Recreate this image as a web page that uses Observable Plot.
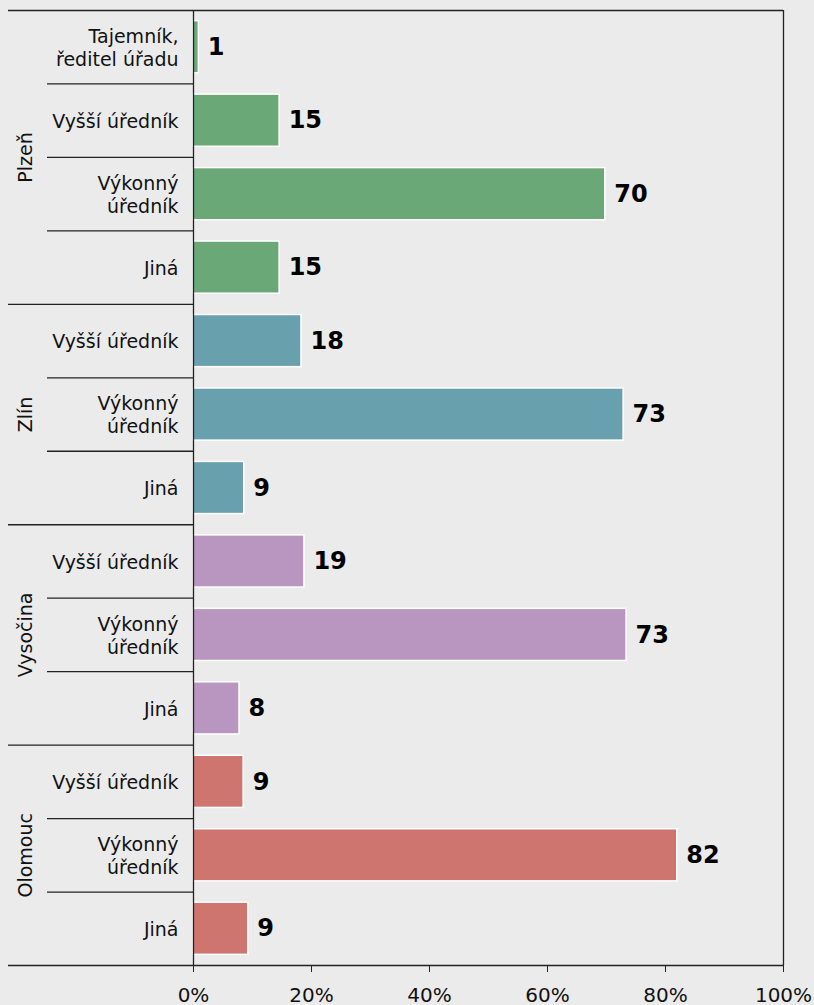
<!DOCTYPE html>
<html><head><meta charset="utf-8">
<script src="https://cdn.jsdelivr.net/npm/d3@7"></script>
<script src="https://cdn.jsdelivr.net/npm/@observablehq/plot@0.6"></script>
<style>html,body{margin:0;padding:0;background:#ebebeb;overflow:hidden}</style>
</head><body><div id="chart"></div>
<script>
const regions = ["Plzeň", "Zlín", "Vysočina", "Olomouc"];
const regionColors = ["#6aa877", "#68a0ae", "#b896c0", "#cf7570"];
const categories = [
  ["Tajemník,\nředitel úřadu", "Vyšší úředník", "Výkonný\núředník", "Jiná"],
  ["Vyšší úředník", "Výkonný\núředník", "Jiná"],
  ["Vyšší úředník", "Výkonný\núředník", "Jiná"],
  ["Vyšší úředník", "Výkonný\núředník", "Jiná"]
];
const shares = [
  [0.9, 14.6, 69.8, 14.6],
  [18.3, 72.9, 8.6],
  [18.8, 73.4, 7.8],
  [8.5, 82.0, 9.3]
];
const valueLabels = [
  [1, 15, 70, 15],
  [18, 73, 9],
  [19, 73, 8],
  [9, 82, 9]
];
const xTicks = [0, 20, 40, 60, 80, 100];

const rows = [];
const groups = [];
let idx = 0;
regions.forEach((r, g) => {
  groups.push({name: r, start: idx, n: categories[g].length});
  categories[g].forEach((c, k) => {
    rows.push({region: r, cat: c, value: shares[g][k], label: String(valueLabels[g][k]), i: idx});
    idx++;
  });
});
const total = idx;
const groupBounds = groups.map(d => d.start).concat([total]);
const innerBounds = [];
groups.forEach(d => { for (let k = 1; k < d.n; k++) innerBounds.push(d.start + k); });

const chart = Plot.plot({
  width: 814,
  height: 1005,
  marginLeft: 193,
  marginRight: 31,
  marginTop: 10,
  marginBottom: 40,
  style: {fontFamily: "DejaVu Sans, Verdana, sans-serif", background: "#ebebeb", overflow: "visible"},
  x: {domain: [0, 100], axis: null},
  y: {domain: [0, total], reverse: true, axis: null},
  color: {domain: regions, range: regionColors},
  marks: [
    Plot.rectX(rows, {x1: 0, x2: "value", y1: d => d.i + 0.145, y2: d => d.i + 0.855, fill: "region", stroke: "white", strokeWidth: 1.5}),
    Plot.axisY(innerBounds, {anchor: "left", tickSize: 146, tickFormat: () => "", label: null, stroke: "#222", strokeWidth: 1.3}),
    Plot.axisY(groupBounds, {anchor: "left", tickSize: 185, tickFormat: () => "", label: null, stroke: "#222", strokeWidth: 1.3}),
    Plot.ruleY([0, total], {stroke: "#222", strokeWidth: 1.3}),
    Plot.ruleX([0, 100], {stroke: "#222", strokeWidth: 1.3}),
    Plot.axisX(xTicks, {anchor: "bottom", tickSize: 7, tickPadding: 15, fontSize: 20, label: null, tickFormat: d => d + "%", stroke: "#222", fill: "#111"}),
    Plot.text(rows, {y: d => d.i + 0.5, text: "cat", frameAnchor: "left", textAnchor: "end", dx: -15, fontSize: 19, lineHeight: 1.2, fill: "#111"}),
    Plot.text(groups, {y: d => d.start + d.n / 2, text: "name", frameAnchor: "left", textAnchor: "middle", dx: -168, rotate: -90, fontSize: 19, fill: "#111"}),
    Plot.text(rows, {x: "value", y: d => d.i + 0.5, text: "label", textAnchor: "start", dx: 9, fontSize: 24, fontWeight: "bold", fill: "#000"})
  ]
});
document.getElementById("chart").appendChild(chart);
</script>
</body></html>
